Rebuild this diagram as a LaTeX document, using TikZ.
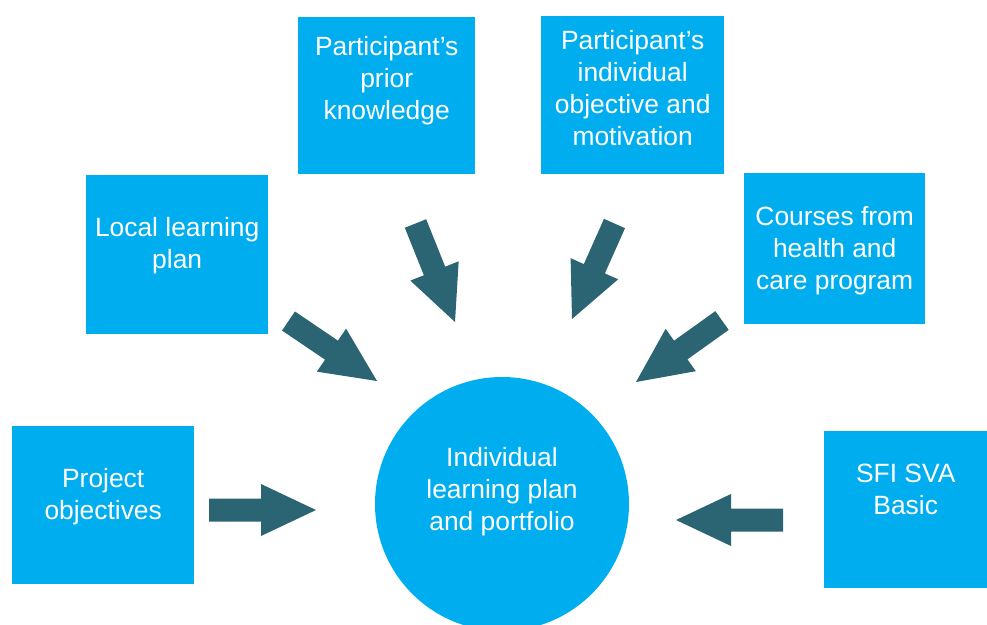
\documentclass[tikz,border=0pt]{standalone}
\usepackage{fontspec}
\setmainfont{Liberation Sans}
\usetikzlibrary{calc}
\definecolor{boxc}{HTML}{00AEEF}
\definecolor{arrowc}{HTML}{2B6472}
\newcommand\blockarrow[2]{%
  \path ($(#2)!55pt!(#1)$) coordinate (hb);
  \fill[arrowc] ($(#1)!11.5pt!90:(#2)$) -- ($(hb)!11.5pt!90:(#2)$) -- ($(hb)!26pt!90:(#2)$) -- (#2)
     -- ($(hb)!26pt!-90:(#2)$) -- ($(hb)!11.5pt!-90:(#2)$) -- ($(#1)!11.5pt!-90:(#2)$) -- cycle;}
\begin{document}
\begin{tikzpicture}[x=1pt,y=-1pt,
  box/.style={fill=boxc, text=white, inner sep=0pt, align=center, anchor=north west,
              font=\fontsize{26.4}{31.8}\selectfont}]
\useasboundingbox (0,0) rectangle (987,624);
% boxes
\node[box, minimum width=177pt, text height=102pt, text depth=55pt] (prior) at (298,17) {Participant’s\\prior\\knowledge};
\node[box, minimum width=183pt, text height=129pt, text depth=29pt] (indiv) at (541,16) {Participant’s\\individual\\objective and\\motivation};
\node[box, minimum width=182pt, text height=93pt, text depth=66pt] (local) at (86,175) {Local learning\\plan};
\node[box, minimum width=181pt, text height=116pt, text depth=35pt] (courses) at (744,173) {Courses from\\health and\\care program};
\node[box, minimum width=182pt, text height=93pt, text depth=65pt] (project) at (12,426) {Project\\objectives};
\node[box, minimum width=163pt, text height=83pt, text depth=74pt] (sfi) at (824,431) {SFI SVA\\Basic};
% centre circle
\node[circle, fill=boxc, text=white, inner sep=0pt, minimum size=254pt, align=center,
      font=\fontsize{26.4}{31.8}\selectfont, text height=100pt, text depth=48pt] (ilp) at (502,504)
      {Individual\\learning plan\\and portfolio};
% arrows
\coordinate (a1s) at (209,510); \coordinate (a1e) at (316,510);
\coordinate (a2s) at (783,520); \coordinate (a2e) at (676,520);
\coordinate (a3s) at (288.5,321); \coordinate (a3e) at (377,381);
\coordinate (a4s) at (415.5,223.5); \coordinate (a4e) at (455,322);
\coordinate (a5s) at (614.5,223.5); \coordinate (a5e) at (572,319);
\coordinate (a6s) at (722,320.5); \coordinate (a6e) at (636,382);
\blockarrow{a1s}{a1e}
\blockarrow{a2s}{a2e}
\blockarrow{a3s}{a3e}
\blockarrow{a4s}{a4e}
\blockarrow{a5s}{a5e}
\blockarrow{a6s}{a6e}
\end{tikzpicture}
\end{document}
